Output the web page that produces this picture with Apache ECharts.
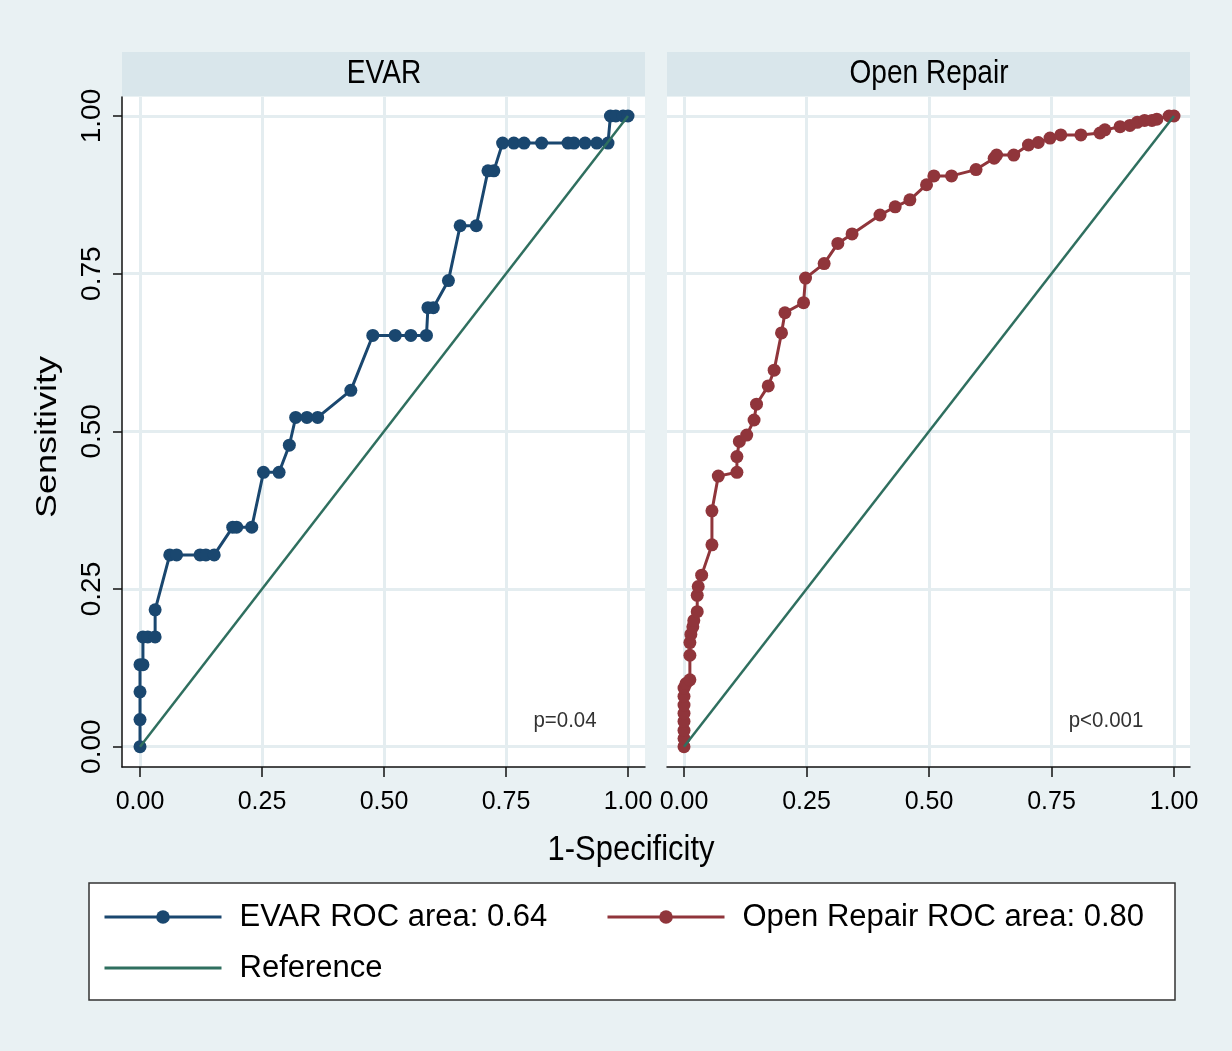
<!DOCTYPE html>
<html>
<head>
<meta charset="utf-8">
<script src="https://cdn.jsdelivr.net/npm/echarts@6/dist/echarts.min.js"></script>
<style>
    html, body { margin: 0; padding: 0; background: #E9F1F3; }
    #chart { width: 1232px; height: 1051px; }
</style>
</head>
<body>
<div id="chart"></div>
<script>
// 刻度
const tickValues = [0, 0.25, 0.5, 0.75, 1]

// EVAR ROC 曲线 (1-特异度, 灵敏度)
const evarFpr = [0, 0, 0, 0, 0.006, 0.006, 0.016, 0.031, 0.031, 0.061, 0.075, 0.123, 0.135, 0.152,
    0.19, 0.198, 0.229, 0.253, 0.285, 0.306, 0.319, 0.342, 0.364, 0.432, 0.477, 0.523, 0.555, 0.587,
    0.59, 0.601, 0.632, 0.656, 0.689, 0.713, 0.725, 0.743, 0.766, 0.787, 0.823, 0.877, 0.889, 0.912,
    0.936, 0.959, 0.964, 0.975, 0.99, 1]
const evarTpr = [0, 0.043, 0.087, 0.13, 0.13, 0.174, 0.174, 0.174, 0.217, 0.304, 0.304, 0.304, 0.304, 0.304,
    0.348, 0.348, 0.348, 0.435, 0.435, 0.478, 0.522, 0.522, 0.522, 0.565, 0.652, 0.652, 0.652, 0.652,
    0.696, 0.696, 0.739, 0.826, 0.826, 0.913, 0.913, 0.957, 0.957, 0.957, 0.957, 0.957, 0.957, 0.957,
    0.957, 0.957, 1, 1, 1, 1]

// Open Repair ROC 曲线
const openFpr = [0, 0, 0, 0, 0, 0, 0, 0, 0.004, 0.012, 0.012, 0.012, 0.014, 0.018, 0.02, 0.027, 0.027,
    0.029, 0.036, 0.057, 0.057, 0.07, 0.108, 0.108, 0.113, 0.128, 0.143, 0.148, 0.172, 0.184, 0.199,
    0.206, 0.244, 0.248, 0.286, 0.314, 0.343, 0.4, 0.431, 0.461, 0.495, 0.51, 0.546, 0.596, 0.633,
    0.638, 0.673, 0.703, 0.723, 0.747, 0.769, 0.81, 0.849, 0.859, 0.89, 0.91, 0.925, 0.94, 0.955,
    0.965, 0.99, 1]
const openTpr = [0, 0.013, 0.026, 0.04, 0.053, 0.066, 0.08, 0.093, 0.1, 0.106, 0.145, 0.165, 0.178, 0.19,
    0.2, 0.214, 0.24, 0.254, 0.272, 0.32, 0.374, 0.429, 0.435, 0.46, 0.484, 0.494, 0.518, 0.543, 0.572,
    0.597, 0.656, 0.688, 0.704, 0.743, 0.766, 0.798, 0.813, 0.843, 0.856, 0.867, 0.891, 0.905, 0.905,
    0.915, 0.933, 0.938, 0.938, 0.954, 0.958, 0.965, 0.97, 0.97, 0.973, 0.978, 0.983, 0.985, 0.99,
    0.993, 0.993, 0.995, 1, 1]

// 参考线
const refFpr = [0, 1]
const refTpr = [0, 1]

const panelTitles = ['EVAR', 'Open Repair']
const pValues = ['p=0.04', 'p<0.001']
const legendNames = ['EVAR ROC area: 0.64', 'Open Repair ROC area: 0.80', 'Reference']

const FONT = "'Liberation Sans', Arial, sans-serif"
const NAVY = '#1A476F'
const MAROON = '#90353B'
const TEAL = '#2F6F5F'
const GRIDLINE = '#E4EDF0'

const zip = (xs, ys) => xs.map((x, i) => [x, ys[i]])

function xAxisFor(gridIndex, min, max) {
    return {
        type: 'value',
        gridIndex: gridIndex,
        min: min,
        max: max,
        axisLine: { show: true, onZero: false, lineStyle: { color: '#111', width: 1.5 } },
        axisTick: { show: true, length: 10, customValues: tickValues, lineStyle: { color: '#111', width: 1.5 } },
        axisLabel: {
            customValues: tickValues,
            formatter: v => v.toFixed(2),
            color: '#000',
            fontFamily: FONT,
            fontSize: 25,
            margin: 23
        },
        splitLine: { show: true, lineStyle: { color: GRIDLINE, width: 3 } }
    }
}

function yAxisFor(gridIndex, showAxis) {
    return {
        type: 'value',
        gridIndex: gridIndex,
        min: -0.0322,
        max: 1.0301,
        axisLine: { show: showAxis, onZero: false, lineStyle: { color: '#111', width: 1.5 } },
        axisTick: { show: showAxis, length: 9, customValues: tickValues, lineStyle: { color: '#111', width: 1.5 } },
        axisLabel: {
            show: showAxis,
            customValues: tickValues,
            formatter: v => v.toFixed(2),
            rotate: 90,
            color: '#000',
            fontFamily: FONT,
            fontSize: 28,
            margin: 16
        },
        splitLine: { show: true, lineStyle: { color: GRIDLINE, width: 3 } }
    }
}

function legendFor(name, left, centerY, hideSymbol) {
    return {
        data: [name],
        left: left,
        top: centerY - 18,
        padding: 0,
        itemWidth: 117,
        itemHeight: 17,
        selectedMode: false,
        lineStyle: { width: 3 },
        itemStyle: hideSymbol ? { opacity: 0 } : {},
        textStyle: {
            fontFamily: FONT,
            fontSize: 31,
            lineHeight: 36,
            color: '#000',
            padding: [0, 0, 0, 13]
        }
    }
}

// 横向压缩的文字 (原图字体偏窄)
function label(text, x, y, size, sx, extra) {
    return Object.assign({
        type: 'text', x: x, y: y, scaleX: sx, z: 5,
        style: { text: text, fill: '#000', font: size + 'px ' + FONT, textAlign: 'center', textVerticalAlign: 'middle' }
    }, extra || {})
}

const chart = echarts.init(document.getElementById('chart'))

const option = {
    backgroundColor: '#E9F1F3',
    animation: false,
    grid: [
        { left: 122, top: 97, width: 523, height: 670, show: true, backgroundColor: '#fff', borderWidth: 0 },
        { left: 667, top: 97, width: 523, height: 670, show: true, backgroundColor: '#fff', borderWidth: 0 }
    ],
    xAxis: [
        xAxisFor(0, -0.0369, 1.0348),
        xAxisFor(1, -0.0347, 1.0327)
    ],
    yAxis: [
        yAxisFor(0, true),
        yAxisFor(1, false)
    ],
    legend: [
        legendFor(legendNames[0], 103, 917, false),
        legendFor(legendNames[1], 606, 917, false),
        legendFor(legendNames[2], 103, 968, true)
    ],
    graphic: [
        // 图例边框
        { type: 'rect', shape: { x: 89, y: 883, width: 1086, height: 117 },
            style: { fill: '#fff', stroke: '#333', lineWidth: 1.5 } },
        // 分面标题
        { type: 'rect', shape: { x: 122, y: 52, width: 523, height: 44 }, style: { fill: '#D9E6EB' } },
        { type: 'rect', shape: { x: 667, y: 52, width: 523, height: 44 }, style: { fill: '#D9E6EB' } },
        label(panelTitles[0], 384, 74, 33, 0.85),
        label(panelTitles[1], 929, 74, 33, 0.85),
        // p 值
        label(pValues[0], 565, 721, 22, 0.93, { style: { text: pValues[0], fill: '#333', font: '22px ' + FONT,
            textAlign: 'center', textVerticalAlign: 'middle' } }),
        label(pValues[1], 1106, 721, 22, 0.93, { style: { text: pValues[1], fill: '#333', font: '22px ' + FONT,
            textAlign: 'center', textVerticalAlign: 'middle' } }),
        // 坐标轴标题
        label('1-Specificity', 631, 850, 35, 0.885),
        label('Sensitivity', 48, 437, 36, 1, { rotation: Math.PI / 2, scaleY: 0.82 })
    ],
    series: [
        {
            name: legendNames[0],
            type: 'line',
            xAxisIndex: 0,
            yAxisIndex: 0,
            data: zip(evarFpr, evarTpr),
            symbol: 'circle',
            symbolSize: 13,
            showAllSymbol: true,
            itemStyle: { color: NAVY },
            lineStyle: { color: NAVY, width: 3 },
            z: 2
        },
        {
            name: legendNames[1],
            type: 'line',
            xAxisIndex: 1,
            yAxisIndex: 1,
            data: zip(openFpr, openTpr),
            symbol: 'circle',
            symbolSize: 13,
            showAllSymbol: true,
            itemStyle: { color: MAROON },
            lineStyle: { color: MAROON, width: 3 },
            z: 2
        },
        {
            name: legendNames[2],
            type: 'line',
            xAxisIndex: 0,
            yAxisIndex: 0,
            data: zip(refFpr, refTpr),
            symbol: 'none',
            itemStyle: { color: TEAL },
            lineStyle: { color: TEAL, width: 2.5 },
            z: 3
        },
        {
            name: legendNames[2],
            type: 'line',
            xAxisIndex: 1,
            yAxisIndex: 1,
            data: zip(refFpr, refTpr),
            symbol: 'none',
            itemStyle: { color: TEAL },
            lineStyle: { color: TEAL, width: 2.5 },
            z: 3
        }
    ]
}

chart.setOption(option)
</script>
</body>
</html>
